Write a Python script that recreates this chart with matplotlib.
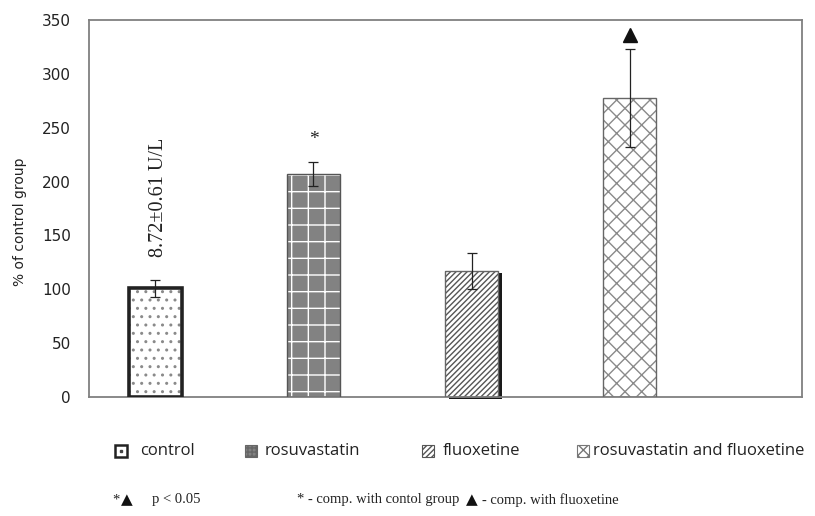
import matplotlib
matplotlib.use("Agg")
import matplotlib.pyplot as plt
from matplotlib.patches import Rectangle
from matplotlib.lines import Line2D
from matplotlib.transforms import offset_copy

# Data
groups = ["control", "rosuvastatin", "fluoxetine", "rosuvastatin and fluoxetine"]
values = [101, 207, 117, 278]
errors = [8, 11.5, 17, 45.5]
yticks = [0, 50, 100, 150, 200, 250, 300, 350]
baseline_note = "8.72\u00b10.61 U/L"
star_y = 239
triangle_y = 336

plt.rcParams["hatch.linewidth"] = 1.0

W, H = 815, 516
fig = plt.figure(figsize=(W / 100, H / 100), dpi=100)
ax = fig.add_axes([89 / W, 1 - 397 / H, (802 - 89) / W, (397 - 20) / H])

x = list(range(len(groups)))
w = 0.335

# bar styles: (face, hatch, hatch colour, border colour, border width)
styles = [
    ("white", "..", "#8a8a8a", "#222222", 2.6),
    ("#828282", "+", "white", "#555555", 1.0),
    ("white", "//////", "#555555", "#666666", 1.0),
    ("white", "xx", "#8a8a8a", "#666666", 1.0),
]

# drop shadow behind the fluoxetine bar
shadow_tr = offset_copy(ax.transData, fig=fig, x=4, y=-2, units="dots")
ax.bar(x[2], values[2], width=w, color="#1a1a1a", linewidth=0,
       transform=shadow_tr, clip_on=False, zorder=1)

for xi, v, (face, hatch, hcol, ecol, lw) in zip(x, values, styles):
    ax.bar(xi, v, width=w, color=face, hatch=hatch, edgecolor=hcol,
           linewidth=0, zorder=2)
    ax.bar(xi, v, width=w, fill=False, edgecolor=ecol, linewidth=lw, zorder=3)

ax.errorbar(x, values, yerr=errors, fmt="none", ecolor="#222222",
            elinewidth=0.9, capsize=3.6, capthick=0.9, zorder=4)

# significance marks
ax.text(x[1], star_y, "*", ha="center", va="center", fontsize=14,
        family="Liberation Serif", color="#222222")
ax.plot([x[3]], [triangle_y], marker="^", markersize=10, color="#111111",
        linestyle="none", zorder=5)

# baseline activity of the control group
ax.text(x[0] + 0.02, 185, baseline_note, rotation=90, ha="center", va="center",
        fontsize=14.5, family="Liberation Serif", color="#222222")

ax.set_xlim(-0.42, 4.09)
ax.set_ylim(0, 350)
ax.set_yticks(yticks)
ax.set_xticks([])
ax.tick_params(axis="y", length=0, pad=13, labelsize=11, labelcolor="#222222")
for s in ax.spines.values():
    s.set_color("#808080")
    s.set_linewidth(1.3)
ax.set_ylabel("% of control group", fontsize=10, color="#222222")
ax.yaxis.set_label_coords((27 - 89) / 713, 0.464)

# legend row: swatch + label for each group
icon_x = [115, 245, 422, 577]
text_x = [140, 265, 443, 593]
legend_y = 451
swatches = [
    dict(facecolor="white", edgecolor="#222222", linewidth=1.8),
    dict(facecolor="#828282", edgecolor="#666666", linewidth=0.8, hatch="++++"),
    dict(facecolor="white", edgecolor="#555555", linewidth=0.8, hatch="//////"),
    dict(facecolor="white", edgecolor="#777777", linewidth=0.8, hatch="xxx"),
]
sz = 12
for ix, tx, label, sw in zip(icon_x, text_x, groups, swatches):
    fig.add_artist(Rectangle((ix / W, 1 - (legend_y + sz / 2) / H), sz / W, sz / H,
                             transform=fig.transFigure, **sw))
    fig.text(tx / W, 1 - legend_y / H, label, va="center", ha="left",
             family="Open Sans", fontsize=12, color="#222222")
fig.add_artist(Line2D([(icon_x[0] + sz / 2) / W], [1 - legend_y / H], marker="s",
                      markersize=1.6, color="#444444", linestyle="none",
                      transform=fig.transFigure))

# footnote
note_y = 1 - 500 / H
note_kw = dict(family="Liberation Serif", fontsize=10.5, color="#222222", va="center")
tri_kw = dict(family="DejaVu Sans", fontsize=11, color="#111111", va="center")
fig.text(112 / W, note_y, "*", **note_kw)
fig.text(121 / W, note_y, "\u25b2", **tri_kw)
fig.text(152 / W, note_y, "p < 0.05", **note_kw)
fig.text(297 / W, note_y, "* - comp. with contol group", **note_kw)
fig.text(466 / W, note_y, "\u25b2", **tri_kw)
fig.text(482 / W, note_y, "- comp. with fluoxetine", **note_kw)

fig.savefig("out.png", dpi=100)
